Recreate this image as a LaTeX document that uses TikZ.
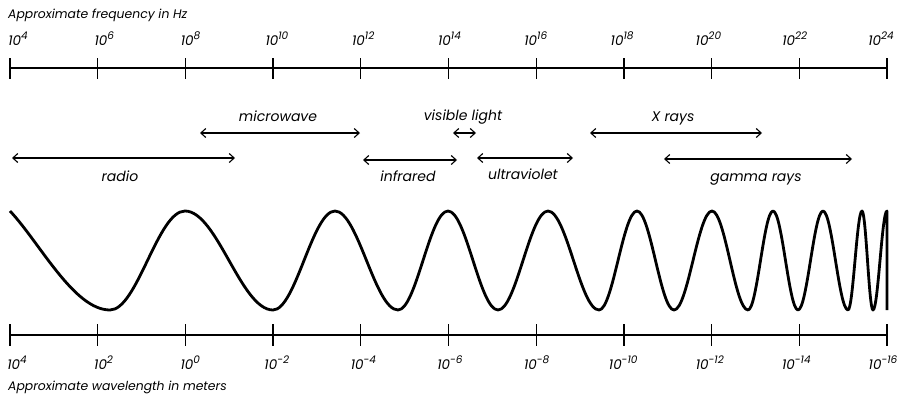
\documentclass[tikz,border=0pt]{standalone}
\usepackage{fontspec}
\setmainfont{Poppins}
\usetikzlibrary{arrows.meta}
\newcommand{\myexp}[1]{10\raisebox{0.42em}{\fontsize{10.5}{12}\selectfont #1}}
\begin{document}
\begin{tikzpicture}[x=1pt,y=-1pt,
  ttl/.style={font=\fontsize{12.4}{14}\selectfont\itshape, inner sep=0pt},
  lbl/.style={font=\fontsize{14}{16}\selectfont\itshape, inner sep=0pt},
  tk/.style={font=\fontsize{13.5}{15}\selectfont\itshape, inner sep=0pt, anchor=base},
  axis/.style={line width=1.3pt},
  rng/.style={line width=1.1pt, {Straight Barb[length=5pt,width=9pt]}-{Straight Barb[length=5pt,width=9pt]}},
  wave/.style={line width=2.8pt, line join=round}]
\useasboundingbox (0,0) rectangle (900,402);
% titles
\node[ttl, anchor=base west] (ftitle) at (8,18) {Approximate frequency in Hz};
\node[ttl, anchor=base west] (wtitle) at (8,390) {Approximate wavelength in meters};
% top axis
\coordinate (ta) at (10,68); \coordinate (tb) at (887,68);
\draw[axis] (ta) -- (tb);
\foreach \k in {0,...,10} {
  \draw[axis] ({10+87.7*\k},58) -- ({10+87.7*\k},79);
}
\foreach \k/\e in {0/4,1/6,2/8,3/10,4/12,5/14,6/16,7/18,8/20,9/22,10/24} {
  \node[tk] (f\k) at ({18+86.3*\k},45) {\myexp{\e}};
}
% bottom axis
\coordinate (ba) at (10,335); \coordinate (bb) at (887,335);
\draw[axis] (ba) -- (bb);
\foreach \k in {0,...,10} {
  \draw[axis] ({10+87.7*\k},324) -- ({10+87.7*\k},346);
}
\foreach \k/\e in {0/4,1/2,2/0,3/-2,4/-4,5/-6,6/-8,7/-10,8/-12,9/-14,10/-16} {
  \node[tk] (w\k) at ({17+86.6*\k},369) {\myexp{\e}};
}
% ranges
\coordinate (r1) at (12,158); \coordinate (r2) at (235,158);
\draw[rng] (r1) -- (r2);
\node[lbl, anchor=base] (radio) at (120,181) {radio};
\coordinate (m1) at (200,133); \coordinate (m2) at (360,133);
\draw[rng] (m1) -- (m2);
\node[lbl, anchor=base] (micro) at (278,121) {microwave};
\coordinate (v1) at (453,133); \coordinate (v2) at (476,133);
\draw[rng] (v1) -- (v2);
\node[lbl, anchor=base] (vis) at (463,120) {visible light};
\coordinate (i1) at (363,160); \coordinate (i2) at (457,160);
\draw[rng] (i1) -- (i2);
\node[lbl, anchor=base] (ir) at (408,181) {infrared};
\coordinate (u1) at (477,158); \coordinate (u2) at (573,158);
\draw[rng] (u1) -- (u2);
\node[lbl, anchor=base] (uv) at (523,179) {ultraviolet};
\coordinate (x1) at (590,133); \coordinate (x2) at (762,133);
\draw[rng] (x1) -- (x2);
\node[lbl, anchor=base] (xr) at (673,121) {X rays};
\coordinate (g1) at (664,159); \coordinate (g2) at (852,159);
\draw[rng] (g1) -- (g2);
\node[lbl, anchor=base] (gr) at (756,181) {gamma rays};
% wave
\draw[wave] (10,211) .. controls +(30,32) and +(-36,0) .. (110,310)
  \foreach \x/\y [remember=\x as \px (initially 110)] in
   {185/211,273/310,335/211,398/310,448/211,498/310,548/211,599/310,637/211,674/310,712/211,748/310,773/211,798/310,823/211,848/310,862/211,873/310,887/211}
  { .. controls +({0.364*(\x-\px)},0) and +({-0.364*(\x-\px)},0) .. (\x,\y) }
  -- (887,310);
\end{tikzpicture}
\end{document}
